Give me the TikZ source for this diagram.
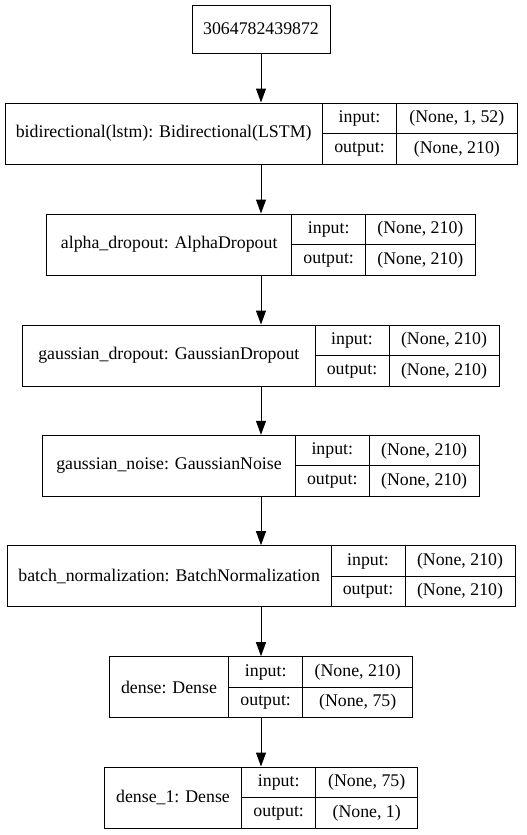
\documentclass[tikz,border=0pt]{standalone}
\usepackage{fontspec}
\setmainfont{Liberation Serif}
\usetikzlibrary{arrows.meta,fit}
\tikzset{
  rec/.style={draw, line width=1pt, inner sep=0pt},
  ln/.style={line width=1pt},
  txt/.style={inner sep=0pt, font=\fontsize{17.8}{20}\selectfont},
  arr/.style={line width=1pt, -{Triangle[length=14pt,width=10pt]}}
}
% #1 name, #2 left, #3 div1, #4 div2, #5 right, #6 top, #7 label, #8 in, #9 out
\newcommand\layerbox[9]{%
  \node[rec, fit={(#2,#6) (#5,#6+61)}] (#1) {};
  \draw[ln] (#3,#6) -- (#3,#6+61);
  \draw[ln] (#4,#6) -- (#4,#6+61);
  \draw[ln] (#3,#6+30.5) -- (#5,#6+30.5);
  \node[txt] (#1-lab) at ({(#2+#3)/2},#6+30.5) {#7};
  \node[txt] (#1-inl) at ({(#3+#4)/2},#6+15.5) {input:};
  \node[txt] (#1-outl) at ({(#3+#4)/2},#6+46) {output:};
  \node[txt] (#1-inv) at ({(#4+#5)/2},#6+15.5) {#8};
  \node[txt] (#1-outv) at ({(#4+#5)/2},#6+46) {#9};
}
\begin{document}
\begin{tikzpicture}[x=1pt,y=-1pt]
\useasboundingbox (0,0) rectangle (527,835);
\node[rec, txt, draw, minimum width=138pt, minimum height=48pt] (in) at (261,29) {3064782439872};
\layerbox{l1}{5}{322.3}{396.7}{517}{103}{bidirectional(lstm): Bidirectional(LSTM)}{(None, 1, 52)}{(None, 210)}
\layerbox{l2}{46.7}{291.7}{365.7}{475}{214}{alpha\_dropout: AlphaDropout}{(None, 210)}{(None, 210)}
\layerbox{l3}{22.7}{315}{389}{499}{325}{gaussian\_dropout: GaussianDropout}{(None, 210)}{(None, 210)}
\layerbox{l4}{42.7}{295.3}{369.3}{479}{435.3}{gaussian\_noise: GaussianNoise}{(None, 210)}{(None, 210)}
\layerbox{l5}{7.3}{331}{405}{515}{545.7}{batch\_normalization: BatchNormalization}{(None, 210)}{(None, 210)}
\layerbox{l6}{109.3}{228.7}{302.7}{412.7}{656.7}{dense: Dense}{(None, 210)}{(None, 75)}
\layerbox{l7}{104.3}{241.7}{315.7}{417.7}{767}{dense\_1: Dense}{(None, 75)}{(None, 1)}
\draw[arr] (in.south) -- (in.south |- l1.north);
\draw[arr] (in.south |- l1.south) -- (in.south |- l2.north);
\draw[arr] (in.south |- l2.south) -- (in.south |- l3.north);
\draw[arr] (in.south |- l3.south) -- (in.south |- l4.north);
\draw[arr] (in.south |- l4.south) -- (in.south |- l5.north);
\draw[arr] (in.south |- l5.south) -- (in.south |- l6.north);
\draw[arr] (in.south |- l6.south) -- (in.south |- l7.north);
\end{tikzpicture}
\end{document}
